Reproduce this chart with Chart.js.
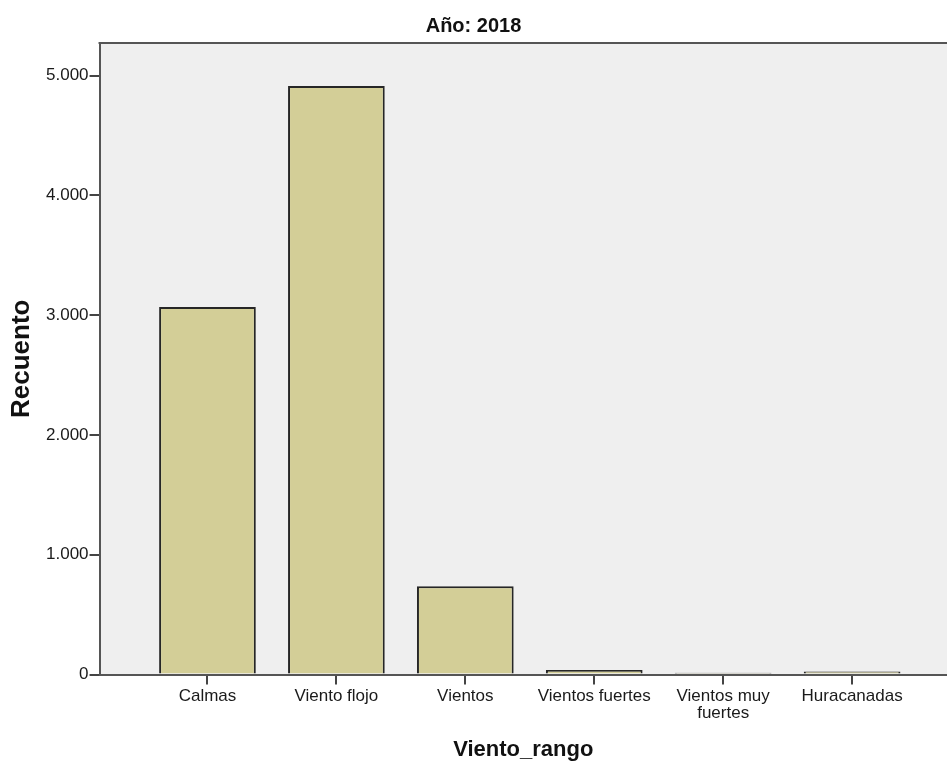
<!DOCTYPE html>
<html>
<head>
<meta charset="utf-8">
<script src="https://cdn.jsdelivr.net/npm/chart.js@4"></script>
<style>
  body { margin: 0; background: #fff; }
  #wrap { width: 947px; height: 762px; }
</style>
</head>
<body>
<div id="wrap"><canvas id="myChart" width="947" height="762"></canvas></div>
<script>
const categories = ["Calmas", "Viento flojo", "Vientos", "Vientos fuertes", ["Vientos muy", "fuertes"], "Huracanadas"];
const counts = [3068, 4914, 737, 38, 14, 26];
const yTicks = [0, 1000, 2000, 3000, 4000, 5000];

const ctx = document.querySelector("#myChart");
const font = "'Liberation Sans', Arial, sans-serif";

// format 5000 -> "5.000"
const fmt = v => String(v).replace(/\B(?=(\d{3})+(?!\d))/g, ".");

const plotBg = {
    id: "plotBg",
    beforeDraw(chart) {
        const { ctx, chartArea: a } = chart;
        ctx.save();
        ctx.fillStyle = "#efefef";
        ctx.fillRect(a.left, a.top, a.right - a.left, a.bottom - a.top);
        ctx.restore();
    },
    afterDraw(chart) {
        const { ctx, chartArea: a } = chart;
        ctx.save();
        ctx.strokeStyle = "#555";
        ctx.lineWidth = 2;
        ctx.beginPath();
        ctx.moveTo(a.left - 1, a.top);
        ctx.lineTo(a.right, a.top);
        ctx.stroke();
        ctx.restore();
    }
};

new Chart(ctx, {
    type: "bar",
    data: {
        datasets: [{
            label: "Recuento",
            data: counts.map((c, i) => ({ x: i, y: c })),
            backgroundColor: "#d3ce97",
            borderColor: "#262626",
            borderWidth: 2,
            borderSkipped: "start",
            categoryPercentage: 1,
            barPercentage: 0.75
        }]
    },
    options: {
        responsive: false,
        animation: false,
        layout: { padding: 0 },
        plugins: {
            legend: { display: false },
            tooltip: { enabled: false },
            title: {
                display: true,
                text: "Año: 2018",
                color: "#111",
                font: { family: font, size: 20, weight: "bold", lineHeight: 1.2 },
                padding: { top: 14, bottom: 5 }
            }
        },
        scales: {
            x: {
                type: "linear",
                offset: false,
                min: -0.837,
                max: 5.736,
                afterBuildTicks: scale => {
                    scale.ticks = categories.map((_, i) => ({ value: i }));
                },
                ticks: {
                    callback: v => categories[v] ?? "",
                    color: "#1a1a1a",
                    font: { family: font, size: 17, lineHeight: 1 },
                    padding: 3,
                    maxRotation: 0,
                    autoSkip: false
                },
                grid: {
                    offset: false,
                    drawOnChartArea: false,
                    tickLength: 10,
                    color: "#444",
                    lineWidth: 2
                },
                border: { color: "#555", width: 2 },
                title: {
                    display: true,
                    text: "Viento_rango",
                    color: "#111",
                    font: { family: font, size: 22, weight: "bold", lineHeight: 1 },
                    padding: { top: 14.5, bottom: 1 }
                }
            },
            y: {
                min: 0,
                max: 5273,
                afterBuildTicks: scale => {
                    scale.ticks = yTicks.map(v => ({ value: v }));
                },
                ticks: {
                    callback: v => fmt(v),
                    color: "#1a1a1a",
                    font: { family: font, size: 17 },
                    padding: 1
                },
                grid: {
                    drawOnChartArea: false,
                    tickLength: 10,
                    color: "#444",
                    lineWidth: 2
                },
                border: { color: "#555", width: 2 },
                title: {
                    display: true,
                    text: "Recuento",
                    color: "#111",
                    font: { family: font, size: 26, weight: "bold", lineHeight: 1 },
                    padding: { top: 9, bottom: 10 }
                }
            }
        }
    },
    plugins: [plotBg]
});
</script>
</body>
</html>
